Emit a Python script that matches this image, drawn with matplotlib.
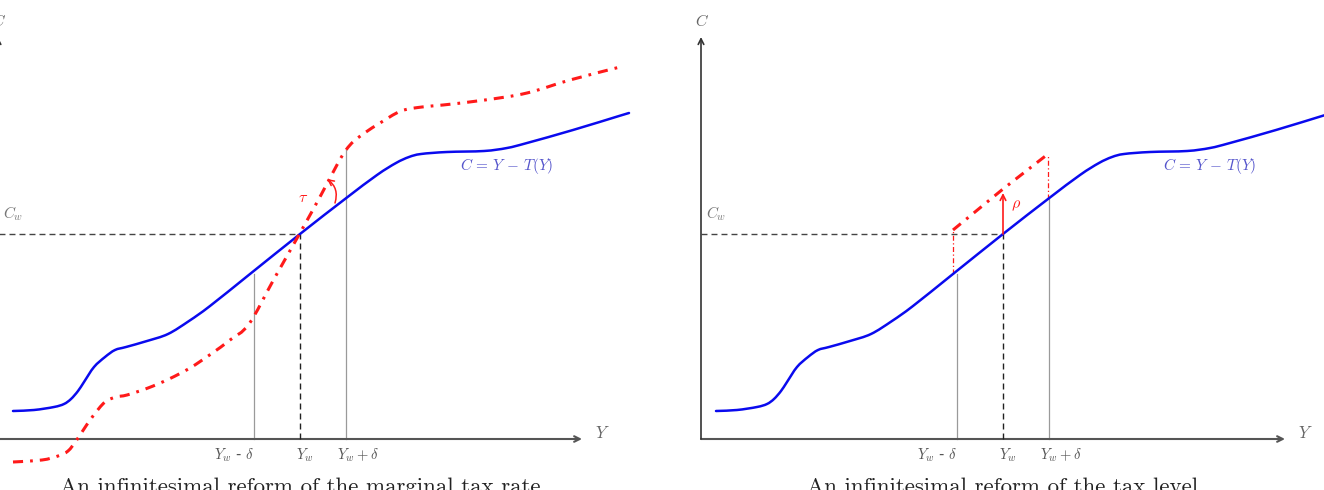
import matplotlib
matplotlib.use("Agg")
import matplotlib.pyplot as plt
from matplotlib.path import Path
from matplotlib.patches import PathPatch

plt.rcParams['mathtext.fontset'] = 'cm'

# ---------------- data (arbitrary units: Y income, C consumption) ----------------
Y_blue = [1.5, 3.6, 5.6, 6.6, 7.3, 8.0, 8.6, 9.6, 10.7, 11.7, 12.8, 14.9, 17.0,
          19.1, 21.2, 25.2, 30.2, 34.7, 37.9, 39.8, 41.1, 42.3, 44.9, 48.6,
          50.9, 52.9, 57.5, 62.1, 63.1]
C_blue = [2.8, 2.9, 3.2, 3.5, 4.0, 4.8, 5.7, 7.2, 8.2, 8.9, 9.2, 9.8, 10.5,
          11.8, 13.3, 16.5, 20.5, 24.0, 26.4, 27.6, 28.2, 28.5, 28.7, 28.8,
          29.1, 29.6, 30.9, 32.3, 32.6]

# reform of the marginal tax rate (left panel)
Y_red_rate = [1.5, 4.4, 6.0, 7.0, 7.8, 8.4, 9.5, 10.7, 11.8, 12.9, 15.0, 17.1,
              19.2, 21.3, 23.2, 25.1, 27.6, 30.2, 32.3, 34.0, 34.8, 35.6, 36.8,
              38.2, 40.3, 42.4, 44.5, 48.7, 52.9, 57.2, 62.6]
C_red_rate = [-2.3, -2.1, -1.7, -1.2, -0.2, 0.7, 2.3, 3.7, 4.2, 4.4, 5.1, 6.0,
              7.1, 8.5, 9.9, 11.5, 16.0, 20.6, 24.4, 27.6, 28.9, 29.8, 30.7,
              31.6, 32.8, 33.2, 33.4, 33.9, 34.6, 35.9, 37.3]

# reform of the tax level (right panel)
Y_red_level = [25.2, 30.2, 34.7]
C_red_level = [20.9, 25.0, 28.5]

Y_w, delta, C_w = 30.2, 4.6, 20.5
C_blue_minus, C_blue_plus = 16.5, 24.0      # blue curve at Y_w - delta, Y_w + delta
C_red_plus_rate = 28.9                       # red curve (rate reform) at Y_w + delta
rho_top = 24.6

tick_labels = [r'$Y_w$ - $\delta$', r'$Y_w$', r'$Y_w + \delta$']
titles = ['An infinitesimal reform of the marginal tax rate',
          'An infinitesimal reform of the tax level']

BLUE = '#0a0aee'
RED = '#ff1a1a'
GREY = '#9a9a9a'
AX = '#555555'


def smooth_path(xs, ys):
    """Smooth (TikZ-like) rendering of a polyline through the read points."""
    n = len(xs)
    tx, ty = [], []
    for i in range(n):
        a = max(i - 1, 0)
        b = min(i + 1, n - 1)
        f = 0.5 if 0 < i < n - 1 else 1.0
        tx.append((xs[b] - xs[a]) * f)
        ty.append((ys[b] - ys[a]) * f)
    verts = [(xs[0], ys[0])]
    codes = [Path.MOVETO]
    for i in range(n - 1):
        verts += [(xs[i] + tx[i] / 3, ys[i] + ty[i] / 3),
                  (xs[i + 1] - tx[i + 1] / 3, ys[i + 1] - ty[i + 1] / 3),
                  (xs[i + 1], ys[i + 1])]
        codes += [Path.CURVE4] * 3
    return Path(verts, codes)


fig = plt.figure(figsize=(13.24, 4.90), dpi=100)
axL = fig.add_axes([0, 0, 662 / 1324, 1])
axR = fig.add_axes([662 / 1324, 0, 662 / 1324, 1])
axL.set_xlim(0.2, 66.4)
axR.set_xlim(-3.9, 62.3)
for ax in (axL, axR):
    ax.set_ylim(-5.1, 43.9)
    ax.axis('off')

red_dd = (3.3, 2.3, 0.9, 2.3)


def common(ax, title):
    # axes with arrows
    ax.annotate('', xy=(58.4, 0), xytext=(0, 0),
                arrowprops=dict(arrowstyle='->', color=AX, lw=1.5,
                                shrinkA=0, shrinkB=0), annotation_clip=False)
    ax.annotate('', xy=(0, 40.2), xytext=(0, 0),
                arrowprops=dict(arrowstyle='->', color='#333333', lw=1.2,
                                shrinkA=0, shrinkB=0), annotation_clip=False)
    ax.text(60.4, 0.6, r'$Y$', color='#666666', fontsize=12, ha='center', va='center')
    ax.text(0.1, 41.8, r'$C$', color='#666666', fontsize=11.5, ha='center', va='center',
            clip_on=False)
    # blue curve
    ax.add_patch(PathPatch(smooth_path(Y_blue, C_blue), fill=False, edgecolor=BLUE,
                           lw=1.8, capstyle='round', zorder=4))
    ax.text(50.9, 27.3, r'$C\,=\,Y\,-\,T(Y)$', color='#5555cc', fontsize=11,
            ha='center', va='center')
    # C_w dashed and Y_w dashed
    ax.plot([0, Y_w], [C_w, C_w], color='#444444', lw=1.0, dashes=(4.3, 2.9), zorder=3)
    ax.plot([Y_w, Y_w], [0, C_w], color='#222222', lw=1.0, dashes=(4.3, 2.9), zorder=3)
    ax.text(0.5, 22.5, r'$C_w$', color='#777777', fontsize=11, ha='left', va='center')
    # tick labels
    ax.text(Y_w - delta, -1.6, tick_labels[0], color='#555555', fontsize=10.5,
            ha='right', va='center')
    ax.text(Y_w + 0.5, -1.6, tick_labels[1], color='#555555', fontsize=10.5,
            ha='center', va='center')
    ax.text(Y_w + delta - 0.9, -1.6, tick_labels[2], color='#555555', fontsize=10.5,
            ha='left', va='center')
    # title (partially cut by the bottom edge, as in the reference)
    ax.text(Y_w, -5.4, title, fontsize=16.5, family='cmr10', color='#222222',
            ha='center', va='baseline', clip_on=False)


# ---------------- left panel ----------------
common(axL, titles[0])
axL.plot([Y_w - delta] * 2, [0, C_blue_minus], color=GREY, lw=0.9, zorder=2)
axL.plot([Y_w + delta] * 2, [0, C_red_plus_rate], color=GREY, lw=0.9, zorder=2)
axL.add_patch(PathPatch(smooth_path(Y_red_rate, C_red_rate), fill=False, edgecolor=RED,
                        lw=2.2, linestyle=(0, red_dd), zorder=5))
axL.text(30.5, 24.2, r'$\tau$', color=RED, fontsize=11.5, ha='center', va='center')
axL.annotate('', xy=(32.9, 26.0), xytext=(33.7, 23.6),
             arrowprops=dict(arrowstyle='->', color=RED, lw=1.1,
                             connectionstyle='arc3,rad=0.35', shrinkA=0, shrinkB=0))

# ---------------- right panel ----------------
common(axR, titles[1])
axR.plot([Y_w - delta] * 2, [0, C_blue_minus], color=GREY, lw=0.9, zorder=2)
axR.plot([Y_w + delta] * 2, [0, C_blue_plus], color=GREY, lw=0.9, zorder=2)
axR.plot([Y_red_level[0]] * 2, [C_blue_minus, C_red_level[0]], color=RED, lw=0.9,
         dashes=(4, 2, 1, 2), zorder=3)
axR.plot([Y_red_level[-1]] * 2, [C_blue_plus, C_red_level[-1]], color=RED, lw=0.9,
         dashes=(4, 2, 1, 2), zorder=3)
axR.plot(Y_red_level, C_red_level, color=RED, lw=2.2, dashes=red_dd, zorder=5)
axR.annotate('', xy=(Y_w, rho_top), xytext=(Y_w, C_w),
             arrowprops=dict(arrowstyle='->', color=RED, lw=1.2, shrinkA=0, shrinkB=0),
             zorder=6)
axR.text(31.5, 23.4, r'$\rho$', color=RED, fontsize=11.5, ha='center', va='center')

fig.savefig('out.png', dpi=100)
